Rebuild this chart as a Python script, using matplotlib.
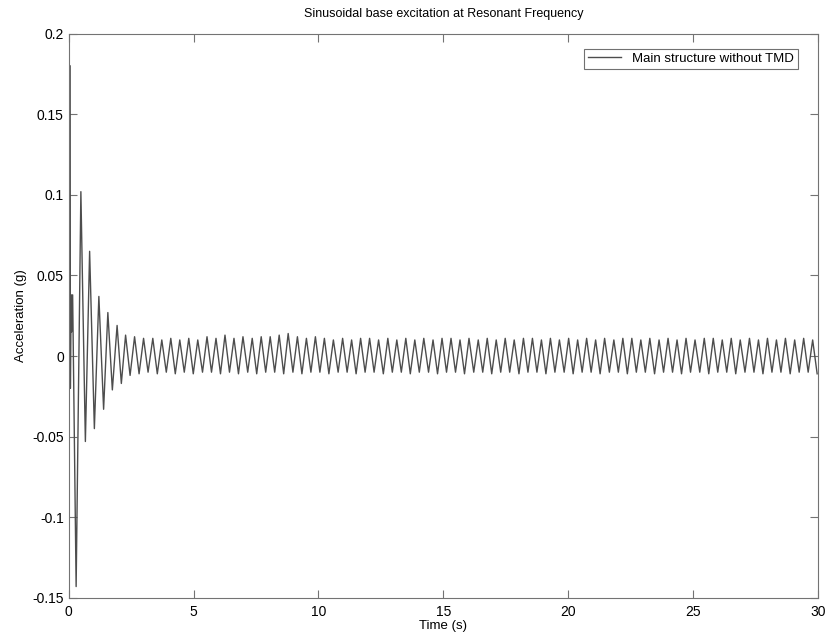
import numpy as np
import matplotlib
matplotlib.use("Agg")
import matplotlib.pyplot as plt
from matplotlib.ticker import MultipleLocator

plt.rcParams['font.family'] = ['Liberation Sans', 'DejaVu Sans']

# transient part (time s, acceleration g)
t_transient = [0.06, 0.07, 0.10, 0.12, 0.16, 0.30, 0.49, 0.67, 0.84, 1.03,
               1.21, 1.40, 1.57, 1.75, 1.94, 2.11, 2.28, 2.46]
a_transient = [0.180, -0.020, 0.038, 0.015, 0.038, -0.143, 0.102, -0.053, 0.065, -0.045,
               0.037, -0.033, 0.027, -0.021, 0.019, -0.017, 0.013, -0.012]

# steady state peaks
t_max = [2.64, 3.00, 3.37, 3.73, 4.09, 4.45, 4.81, 5.17, 5.54, 5.90,
         6.26, 6.62, 6.98, 7.35, 7.71, 8.07, 8.43, 8.79, 9.16, 9.52,
         9.88, 10.24, 10.60, 10.97, 11.33, 11.69, 12.05, 12.41, 12.78, 13.14,
         13.50, 13.86, 14.22, 14.59, 14.95, 15.31, 15.67, 16.03, 16.40, 16.76,
         17.12, 17.48, 17.84, 18.21, 18.57, 18.93, 19.29, 19.65, 20.02, 20.38,
         20.74, 21.10, 21.46, 21.83, 22.19, 22.55, 22.91, 23.27, 23.64, 24.00,
         24.36, 24.72, 25.08, 25.45, 25.81, 26.17, 26.53, 26.89, 27.26, 27.62,
         27.98, 28.34, 28.70, 29.07, 29.43, 29.79]
a_max = [0.012, 0.011, 0.011, 0.010, 0.011, 0.010, 0.011, 0.010, 0.012, 0.011,
         0.013, 0.011, 0.012, 0.011, 0.012, 0.012, 0.013, 0.014, 0.012, 0.011,
         0.012, 0.011, 0.010, 0.011, 0.010, 0.011, 0.011, 0.010, 0.011, 0.010,
         0.011, 0.010, 0.011, 0.010, 0.011, 0.011, 0.010, 0.011, 0.010, 0.011,
         0.010, 0.011, 0.010, 0.011, 0.011, 0.010, 0.011, 0.010, 0.011, 0.010,
         0.011, 0.010, 0.011, 0.010, 0.011, 0.011, 0.010, 0.011, 0.010, 0.011,
         0.010, 0.011, 0.010, 0.011, 0.011, 0.010, 0.011, 0.010, 0.011, 0.010,
         0.011, 0.010, 0.011, 0.010, 0.011, 0.010]

# steady state troughs
t_min = [2.82, 3.18, 3.55, 3.91, 4.27, 4.63, 4.99, 5.36, 5.72, 6.08,
         6.44, 6.80, 7.17, 7.53, 7.89, 8.25, 8.61, 8.98, 9.34, 9.70,
         10.06, 10.42, 10.79, 11.15, 11.51, 11.87, 12.23, 12.60, 12.96, 13.32,
         13.68, 14.04, 14.41, 14.77, 15.13, 15.49, 15.85, 16.22, 16.58, 16.94,
         17.30, 17.66, 18.03, 18.39, 18.75, 19.11, 19.47, 19.84, 20.20, 20.56,
         20.92, 21.28, 21.65, 22.01, 22.37, 22.73, 23.09, 23.46, 23.82, 24.18,
         24.54, 24.90, 25.27, 25.63, 25.99, 26.35, 26.71, 27.08, 27.44, 27.80,
         28.16, 28.52, 28.89, 29.25, 29.61, 29.97]
a_min = [-0.011, -0.010, -0.011, -0.010, -0.011, -0.010, -0.011, -0.010, -0.010, -0.011,
         -0.010, -0.011, -0.010, -0.011, -0.010, -0.010, -0.011, -0.010, -0.011, -0.010,
         -0.010, -0.011, -0.010, -0.010, -0.011, -0.010, -0.010, -0.011, -0.010, -0.010,
         -0.011, -0.010, -0.010, -0.011, -0.010, -0.010, -0.011, -0.010, -0.010, -0.011,
         -0.010, -0.010, -0.011, -0.010, -0.010, -0.011, -0.010, -0.010, -0.011, -0.010,
         -0.010, -0.011, -0.010, -0.010, -0.011, -0.010, -0.010, -0.011, -0.010, -0.010,
         -0.011, -0.010, -0.010, -0.011, -0.010, -0.010, -0.011, -0.010, -0.010, -0.011,
         -0.010, -0.010, -0.011, -0.010, -0.010, -0.011]

t = np.concatenate([t_transient, t_max, t_min])
a = np.concatenate([a_transient, a_max, a_min])
order = np.argsort(t)
t, a = t[order], a[order]

fig = plt.figure(figsize=(8.27, 6.36), dpi=100)
ax = fig.add_axes([0.083, 0.060, 0.906, 0.887])
ax.plot(t, a, color='0.3', linewidth=1.0, label='Main structure without TMD')

ax.set_xlim(0, 30)
ax.set_ylim(-0.15, 0.2)
ax.xaxis.set_major_locator(MultipleLocator(5))
ax.set_yticks([-0.15, -0.1, -0.05, 0, 0.05, 0.1, 0.15, 0.2])
ax.set_yticklabels(['-0.15', '-0.1', '-0.05', '0', '0.05', '0.1', '0.15', '0.2'])
ax.tick_params(direction='in', top=True, right=True, labelsize=10, length=6,
               color='0.45')
ax.tick_params(axis='x', pad=5)
for s in ax.spines.values():
    s.set_color('0.45')

ax.set_title('Sinusoidal base excitation at Resonant Frequency', fontsize=9, pad=12)
ax.set_xlabel('Time (s)', fontsize=9.5, labelpad=1)
ax.set_ylabel('Acceleration (g)', fontsize=9.5, labelpad=4)
leg = ax.legend(loc='upper right', fontsize=9.5, handlelength=2.5, fancybox=False,
                borderpad=0.3, bbox_to_anchor=(0.982, 0.985))
leg.get_frame().set_edgecolor('0.3')
leg.get_frame().set_linewidth(0.8)

fig.savefig('out.png', dpi=100)
